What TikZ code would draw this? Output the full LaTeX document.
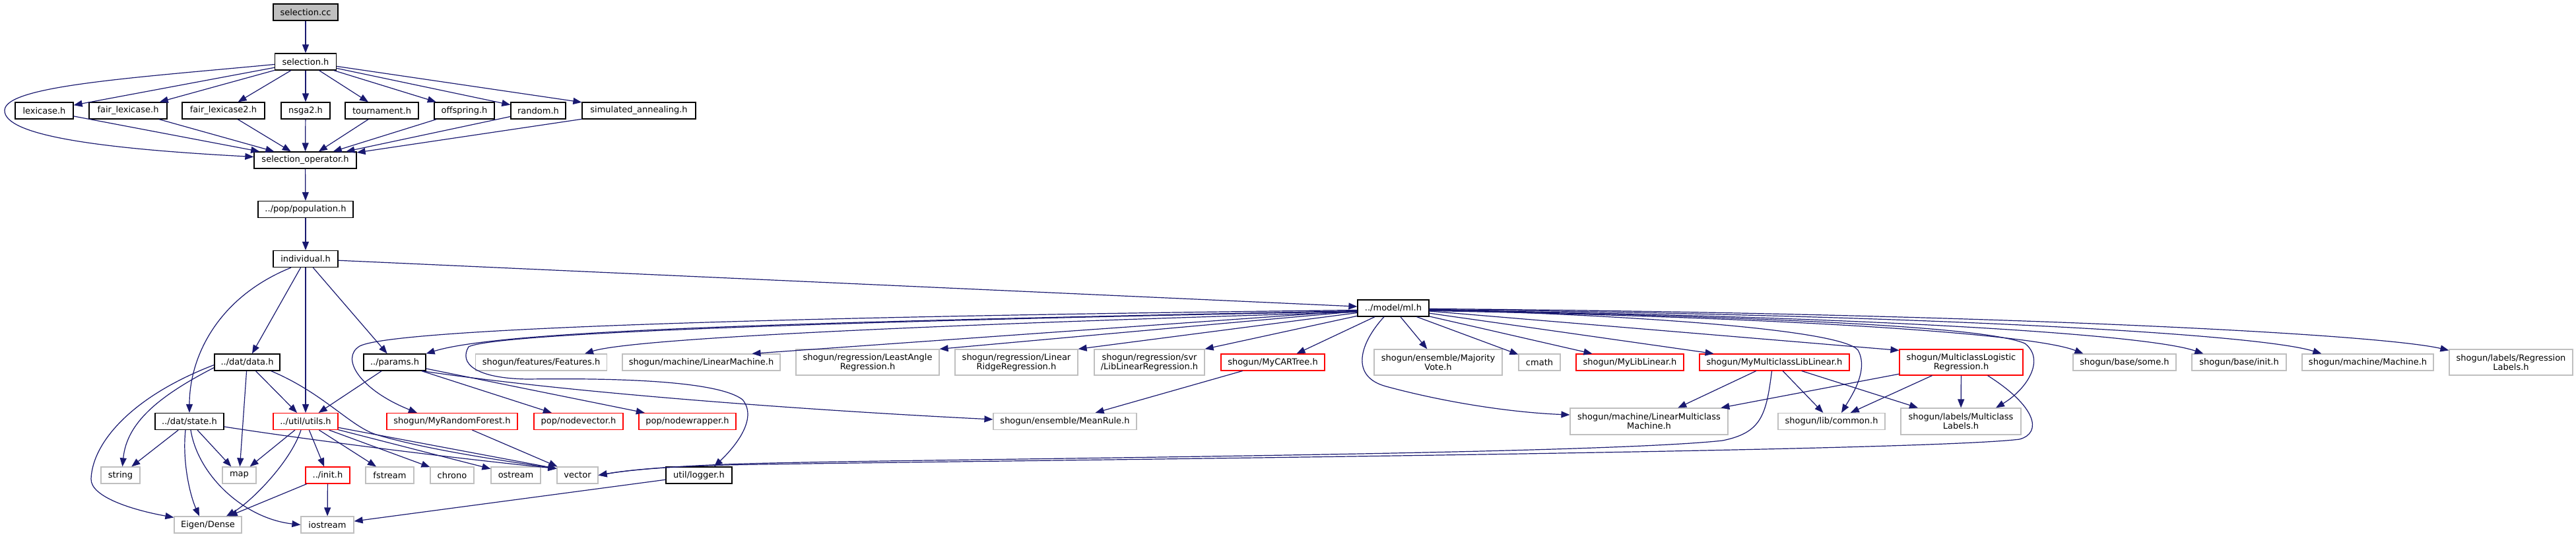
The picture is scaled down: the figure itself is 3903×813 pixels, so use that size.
\documentclass[tikz,border=0pt]{standalone}
\usepackage{fontspec}
\setmainfont{DejaVu Sans}
\usetikzlibrary{arrows.meta,calc}
\definecolor{edgec}{HTML}{191970}
\definecolor{sysgray}{HTML}{BFBFBF}
\definecolor{fillgray}{HTML}{BFBFBF}
\newcommand\dgfont{\fontsize{13}{14}\selectfont}
\tikzset{
 nd/.style={draw=black, line width=1.3pt, fill=white, minimum height=25pt, inner sep=0pt, align=center, font=\dgfont},
 sysnd/.style={nd, draw=sysgray, line width=1.2pt},
 trnd/.style={nd, draw=red, line width=1.1pt},
 e/.style={draw=edgec, line width=1.2pt, -{Triangle[length=13pt,width=10pt]}},
}
\begin{document}
\begin{tikzpicture}[x=1pt,y=-1pt]
\fill[white] (0,0) rectangle (3903,813);
\useasboundingbox (0,0) rectangle (3903,813);
% nodes
\node[nd, fill=fillgray, minimum width=98pt] (selcc) at (463,18.5) {selection.cc};
\node[nd, minimum width=93pt] (selh) at (463,93.5) {selection.h};
\node[nd, minimum width=88pt] (lex) at (67,167.5) {lexicase.h};
\node[nd, minimum width=118pt] (flex) at (194,167.5) {fair\_lexicase.h};
\node[nd, minimum width=125pt] (flex2) at (338.5,167.5) {fair\_lexicase2.h};
\node[nd, minimum width=74pt] (nsga) at (463,167.5) {nsga2.h};
\node[nd, minimum width=111pt] (tour) at (578.5,167.5) {tournament.h};
\node[nd, minimum width=91pt] (offs) at (703.5,167.5) {offspring.h};
\node[nd, minimum width=83pt] (rand) at (815.5,167.5) {random.h};
\node[nd, minimum width=172pt] (sa) at (968,167.5) {simulated\_annealing.h};
\node[nd, minimum width=155pt] (selop) at (462.5,242.5) {selection\_operator.h};
\node[nd, minimum width=144pt] (pop) at (463,317) {../pop/population.h};
\node[nd, minimum width=98pt] (ind) at (463,392) {individual.h};
\node[nd, minimum width=108pt] (ml) at (2111,466.5) {../model/ml.h};
% row y=548.5
\node[nd, minimum width=99pt] (data) at (374.5,548.5) {../dat/data.h};
\node[nd, minimum width=94pt] (params) at (598,548.5) {../params.h};
\node[sysnd, minimum width=199pt] (feat) at (820,548.5) {shogun/features/Features.h};
\node[sysnd, minimum width=239pt] (linm) at (1062.5,548.5) {shogun/machine/LinearMachine.h};
\node[sysnd, minimum width=217pt, minimum height=39pt] (lar) at (1314.5,548.5) {shogun/regression/LeastAngle\\Regression.h};
\node[sysnd, minimum width=186pt, minimum height=39pt] (lrr) at (1540,548.5) {shogun/regression/Linear\\RidgeRegression.h};
\node[sysnd, minimum width=167pt, minimum height=39pt] (llr) at (1741.5,548.5) {shogun/regression/svr\\/LibLinearRegression.h};
\node[trnd, minimum width=157pt] (cart) at (1928.5,548.5) {shogun/MyCARTree.h};
\node[sysnd, minimum width=194pt, minimum height=39pt] (mv) at (2179,548.5) {shogun/ensemble/Majority\\Vote.h};
\node[sysnd, minimum width=63pt] (cmath) at (2332.5,548.5) {cmath};
\node[trnd, minimum width=163pt] (mll) at (2469.5,548.5) {shogun/MyLibLinear.h};
\node[trnd, minimum width=227pt] (mmll) at (2688.5,548.5) {shogun/MyMulticlassLibLinear.h};
\node[trnd, minimum width=187pt, minimum height=39pt] (mlr) at (2971.5,548.5) {shogun/MulticlassLogistic\\Regression.h};
\node[sysnd, minimum width=156pt] (some) at (3219,548.5) {shogun/base/some.h};
\node[sysnd, minimum width=143pt] (binit) at (3392.5,548.5) {shogun/base/init.h};
\node[sysnd, minimum width=199pt] (mach) at (3587.5,548.5) {shogun/machine/Machine.h};
\node[sysnd, minimum width=187pt, minimum height=39pt] (rl) at (3804.5,548.5) {shogun/labels/Regression\\Labels.h};
% row y=638
\node[nd, minimum width=104pt] (state) at (287,638) {../dat/state.h};
\node[trnd, minimum width=98pt] (utils) at (463,638) {../util/utils.h};
\node[trnd, minimum width=198pt] (myrf) at (685,638) {shogun/MyRandomForest.h};
\node[trnd, minimum width=135pt] (nvec) at (876.5,638) {pop/nodevector.h};
\node[trnd, minimum width=147pt] (nwrap) at (1041.5,638) {pop/nodewrapper.h};
\node[sysnd, minimum width=217pt] (mean) at (1613.5,638) {shogun/ensemble/MeanRule.h};
\node[sysnd, minimum width=239pt, minimum height=40pt] (lmm) at (2498.5,638) {shogun/machine/LinearMulticlass\\Machine.h};
\node[sysnd, minimum width=162pt] (common) at (2775,638) {shogun/lib/common.h};
\node[sysnd, minimum width=182pt, minimum height=40pt] (mcl) at (2971,638) {shogun/labels/Multiclass\\Labels.h};
% row y=719.5
\node[sysnd, minimum width=59pt] (string) at (182.5,719.5) {string};
\node[sysnd, minimum width=51pt] (map) at (362.5,719.5) {map};
\node[trnd, minimum width=67pt] (init) at (496.5,719.5) {../init.h};
\node[sysnd, minimum width=73pt] (fstream) at (590.5,719.5) {fstream};
\node[sysnd, minimum width=66pt] (chrono) at (685,719.5) {chrono};
\node[sysnd, minimum width=75pt] (ostream) at (781.5,719.5) {ostream};
\node[sysnd, minimum width=62pt] (vector) at (875,719.5) {vector};
\node[nd, minimum width=100pt] (logger) at (1059,719.5) {util/logger.h};
% row y=794.5
\node[sysnd, minimum width=102pt] (eigen) at (315,794.5) {Eigen/Dense};
\node[sysnd, minimum width=80pt] (iostream) at (496,794.5) {iostream};
% edges
\draw[e] (selcc) -- (selh);
\foreach \n in {lex,flex,flex2,nsga,tour,offs,rand,sa}{\draw[e] (selh) -- (\n); \draw[e] (\n) -- (selop);}
\draw[e] ($(selh.west)+(0,4)$) .. controls (200,118) and (8,130) .. (7,167) .. controls (6,205) and (150,225) .. ($(selop.west)+(0,-5)$);
\draw[e] (selop) -- (pop);
\draw[e] (pop) -- (ind);
\draw[e] (ind) -- (ml);
\draw[e] (ind) -- (data);
\draw[e] (ind) -- (utils);
\draw[e] (ind) -- (params);
\draw[e] ($(ind.south)+(-22,0)$) .. controls (330,450) and (287,540) .. (state.north);
% data
\draw[e] ($(data.west)+(0,8)$) .. controls (240,600) and (192,640) .. ($(string.north)+(3,0)$);
\draw[e] ($(data.west)+(0,4)$) .. controls (200,600) and (140,670) .. (138,725) .. controls (137,752) and (200,772) .. ($(eigen.north west)+(0,2)$);
\draw[e] (data) -- (map);
\draw[e] (data) -- (utils);
\draw[e] ($(data.south east)+(-14,0)$) .. controls (490,595) and (530,645) .. (570,658) .. controls (650,682) and (780,700) .. ($(vector.north west)+(0,3)$);
% state
\draw[e] (state) -- (string);
\draw[e] (state) -- (map);
\draw[e] ($(state.south)+(-6,0)$) .. controls (276,700) and (288,750) .. ($(eigen.north)+(-13,0)$);
\draw[e] ($(state.south)+(2,0)$) .. controls (300,720) and (370,785) .. (iostream.west);
\draw[e] ($(state.east)+(0,8)$) .. controls (480,668) and (700,695) .. ($(vector.north west)+(0,3)$);
% utils
\draw[e] (utils) -- (map);
\draw[e] ($(utils.south)+(-7,0)$) .. controls (440,700) and (380,760) .. ($(eigen.north)+(28,0)$);
\draw[e] (utils) -- (init);
\draw[e] (utils) -- (fstream);
\draw[e] (utils) -- (chrono);
\draw[e] (utils) -- (ostream);
\draw[e] (utils) -- ($(vector.north west)+(0,3)$);
\draw[e] (init) -- (eigen);
\draw[e] (init) -- (iostream);
\draw[e] (logger) -- (iostream);
% params
\draw[e] (params) -- (utils);
\draw[e] (params) -- (nvec);
\draw[e] (params) -- (nwrap);
\draw[e] ($(params.south east)+(-6,0)$) .. controls (900,600) and (1300,625) .. ($(mean.west)+(0,-3)$);
\draw[e] (myrf) -- (vector);
\draw[e] (cart) -- (mean);
% ml
\draw[e] ($(ml.west)+(0,3)$) .. controls (1300,478) and (600,495) .. (545,524) .. controls (515,542) and (545,590) .. ($(myrf.north)+(-53,0)$);
\draw[e] ($(ml.west)+(0,5)$) .. controls (1500,482) and (760,500) .. (710,525) .. controls (695,550) and (720,573) .. (800,574) .. controls (950,572) and (1090,578) .. (1125,605) .. controls (1150,635) and (1110,680) .. ($(logger.north)+(23,0)$);
\draw[e] ($(ml.west)+(0,4)$) .. controls (1200,488) and (760,500) .. (params.north east);
\draw[e] ($(ml.west)+(0,6)$) .. controls (1300,495) and (950,515) .. ($(feat.north)+(66,0)$);
\draw[e] (ml) -- ($(linm.north)+(77,0)$);
\draw[e] (ml) -- (lar.north east);
\draw[e] (ml) -- (lrr.north east);
\draw[e] (ml) -- (llr.north east);
\draw[e] (ml) -- ($(cart.north)+(36,0)$);
\draw[e] (ml) -- (mv);
\draw[e] (ml) -- (cmath);
\draw[e] (ml) -- (mll);
\draw[e] (ml) -- (mmll);
\draw[e] (ml) -- ($(mlr.north west)+(0,2)$);
\draw[e] ($(ml.south)+(-14,0)$) .. controls (2060,520) and (2045,570) .. (2100,585) .. controls (2200,612) and (2300,625) .. ($(lmm.west)+(0,-10)$);
\draw[e] ($(ml.east)+(0,2)$) .. controls (2500,478) and (2790,500) .. (2815,530) .. controls (2832,560) and (2805,600) .. ($(common.north)+(15,0)$);
\draw[e] ($(ml.east)+(0,3)$) .. controls (2700,480) and (3010,495) .. (3068,520) .. controls (3100,545) and (3070,590) .. ($(mcl.north)+(53,0)$);
\draw[e] ($(ml.east)+(0,4)$) .. controls (2700,480) and (3080,505) .. ($(some.north west)+(16,0)$);
\draw[e] ($(ml.east)+(0,3)$) .. controls (2800,478) and (3250,505) .. ($(binit.north west)+(18,0)$);
\draw[e] ($(ml.east)+(0,2)$) .. controls (2900,476) and (3420,505) .. ($(mach.north west)+(30,0)$);
\draw[e] ($(ml.east)+(0,1)$) .. controls (3000,474) and (3600,505) .. ($(rl.north west)+(0,2)$);
% mmll
\draw[e] (mmll) -- (lmm);
\draw[e] (mmll) -- (common);
\draw[e] (mmll) -- (mcl);
\draw[e] ($(mmll.south)+(-4,0)$) .. controls (2676,630) and (2668,655) .. (2610,667) .. controls (2400,690) and (1300,695) .. (1100,703) .. controls (1000,707) and (950,712) .. (vector.east);
% mlr
\draw[e] (mlr) -- (lmm);
\draw[e] (mlr) -- (common);
\draw[e] (mlr) -- (mcl);
\draw[e] ($(mlr.south)+(40,0)$) .. controls (3085,615) and (3095,655) .. (3060,665) .. controls (2900,685) and (1400,698) .. (1100,704) .. controls (1000,707) and (950,712) .. (vector.east);
\end{tikzpicture}
\end{document}
